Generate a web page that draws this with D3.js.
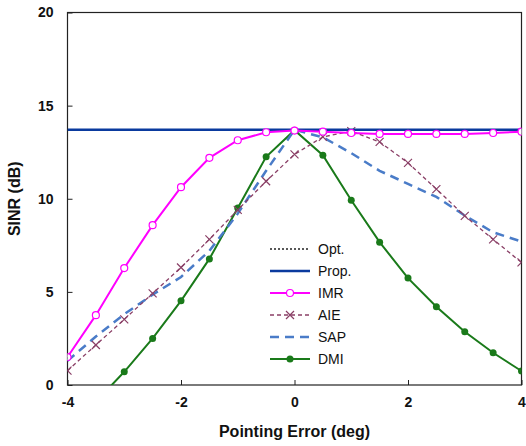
<!DOCTYPE html>
<meta charset="utf-8">
<script src="https://d3js.org/d3.v7.min.js"></script>
<style>
  body { margin: 0; background: #fff; }
  text { font-family: Arial, "Liberation Sans", sans-serif; }
</style>
<div id="my_dataviz"></div>
<script>

// pointing error values (deg)
var errors = [-4, -3.5, -3, -2.5, -2, -1.5, -1, -0.5, 0, 0.5, 1, 1.5, 2, 2.5, 3, 3.5, 4];

// SINR (dB) of each method
var opt  = [13.7, 13.7, 13.7, 13.7, 13.7, 13.7, 13.7, 13.7, 13.7, 13.7, 13.7, 13.7, 13.7, 13.7, 13.7, 13.7, 13.7];
var prop = [13.7, 13.7, 13.7, 13.7, 13.7, 13.7, 13.7, 13.7, 13.7, 13.7, 13.7, 13.7, 13.7, 13.7, 13.7, 13.7, 13.7];
var imr  = [1.5, 3.75, 6.28, 8.58, 10.62, 12.2, 13.14, 13.57, 13.66, 13.6, 13.53, 13.48, 13.48, 13.48, 13.48, 13.53, 13.6];
var aie  = [0.77, 2.15, 3.52, 4.92, 6.31, 7.82, 9.4, 10.94, 12.38, 13.32, 13.63, 13.05, 11.93, 10.52, 9.08, 7.82, 6.58];
var sap  = [1.3, 2.6, 3.8, 4.85, 5.8, 7.2, 9.2, 11.5, 13.7, 13.3, 12.45, 11.5, 10.8, 10.1, 9.1, 8.2, 7.7];
var dmi  = [-2.6, -0.9, 0.71, 2.5, 4.52, 6.77, 9.5, 12.25, 13.68, 12.34, 9.92, 7.67, 5.74, 4.2, 2.86, 1.73, 0.75];

var xTicks = [-4, -2, 0, 2, 4];
var yTicks = [0, 5, 10, 15, 20];

var margin = {top: 12.5, right: 4.5, bottom: 61, left: 67.5},
    width = 526 - margin.left - margin.right,
    height = 446 - margin.top - margin.bottom;

var svg = d3.select("#my_dataviz")
  .append("svg")
    .attr("width", 526)
    .attr("height", 446)
  .append("g")
    .attr("transform", "translate(" + margin.left + "," + margin.top + ")");

var x = d3.scaleLinear().domain([-4, 4]).range([0, width]);
var y = d3.scaleLinear().domain([0, 20]).range([height, 0]);

// clip so the lines stay inside the plot box
svg.append("clipPath").attr("id", "clip")
  .append("rect").attr("width", width).attr("height", height);

// axes, ticks pointing inward, plain hyphen for negatives
var fmt = function(d) { return String(d); };
var xAxis = svg.append("g")
  .attr("transform", "translate(0," + height + ")")
  .call(d3.axisBottom(x).tickValues(xTicks).tickFormat(fmt).tickSize(-5).tickPadding(12));
var yAxis = svg.append("g")
  .call(d3.axisLeft(y).tickValues(yTicks).tickFormat(fmt).tickSize(-5).tickPadding(14));

[xAxis, yAxis].forEach(function(a) {
  a.select(".domain").remove();
  a.selectAll("line").attr("stroke", "#222");
  a.selectAll("text")
    .attr("font-size", 14)
    .attr("font-weight", "bold")
    .attr("fill", "#111");
});

// box around the plot
svg.append("rect")
  .attr("width", width).attr("height", height)
  .attr("fill", "none").attr("stroke", "#222").attr("stroke-width", 1.2);

var series = [
  {name: "Opt.",  values: opt,  color: "#222",    width: 1.5, dash: "2,2", marker: null},
  {name: "Prop.", values: prop, color: "#0a3a9e", width: 2.5, dash: null,  marker: null},
  {name: "IMR",   values: imr,  color: "#ff00ff", width: 2,   dash: null,  marker: "circle"},
  {name: "AIE",   values: aie,  color: "#8a3f66", width: 1.3, dash: "4,3", marker: "cross"},
  {name: "SAP",   values: sap,  color: "#4a7cc8", width: 2.5, dash: "9,6", marker: null},
  {name: "DMI",   values: dmi,  color: "#1a7a1a", width: 2,   dash: null,  marker: "dot"}
];

var plot = svg.append("g").attr("clip-path", "url(#clip)");

var line = d3.line()
  .x(function(d, i) { return x(errors[i]); })
  .y(function(d) { return y(d); });

function drawMarker(g, type, color, cx, cy) {
  if (type === "circle") {
    g.append("circle").attr("cx", cx).attr("cy", cy).attr("r", 3.5)
      .attr("fill", "#fff").attr("stroke", color).attr("stroke-width", 1.2);
  } else if (type === "dot") {
    g.append("circle").attr("cx", cx).attr("cy", cy).attr("r", 3.5)
      .attr("fill", color);
  } else if (type === "cross") {
    var s = 4;
    g.append("path")
      .attr("d", "M" + (cx - s) + "," + (cy - s) + "L" + (cx + s) + "," + (cy + s) +
                 "M" + (cx - s) + "," + (cy + s) + "L" + (cx + s) + "," + (cy - s))
      .attr("stroke", color).attr("stroke-width", 1.2);
  }
}

// draw in an order that keeps Prop on top of Opt
[5, 4, 3, 0, 1, 2].forEach(function(k) {
  var s = series[k];
  plot.append("path")
    .datum(s.values)
    .attr("fill", "none")
    .attr("stroke", s.color)
    .attr("stroke-width", s.width)
    .attr("stroke-dasharray", s.dash)
    .attr("d", line);
  if (s.marker) {
    s.values.forEach(function(v, i) {
      if (v >= 0) drawMarker(plot, s.marker, s.color, x(errors[i]), y(v));
    });
  }
});

// legend
var legend = svg.append("g").attr("transform", "translate(" + (270 - margin.left) + "," + (249 - margin.top) + ")");
series.forEach(function(s, i) {
  var g = legend.append("g").attr("transform", "translate(0," + (i * 22) + ")");
  g.append("line")
    .attr("x1", 0).attr("x2", 40)
    .attr("stroke", s.color).attr("stroke-width", s.width)
    .attr("stroke-dasharray", s.dash);
  if (s.marker) drawMarker(g, s.marker, s.color, 20, 0);
  g.append("text")
    .attr("x", 48).attr("y", 0).attr("dy", "0.35em")
    .attr("font-size", 14).attr("fill", "#111")
    .text(s.name);
});

// axis titles
svg.append("text")
  .attr("x", width / 2).attr("y", height + 52)
  .attr("text-anchor", "middle")
  .attr("font-size", 16).attr("font-weight", "bold").attr("fill", "#111")
  .text("Pointing Error (deg)");

svg.append("text")
  .attr("transform", "rotate(-90)")
  .attr("x", -height / 2).attr("y", -48)
  .attr("text-anchor", "middle")
  .attr("font-size", 16).attr("font-weight", "bold").attr("fill", "#111")
  .text("SINR (dB)");

</script>
